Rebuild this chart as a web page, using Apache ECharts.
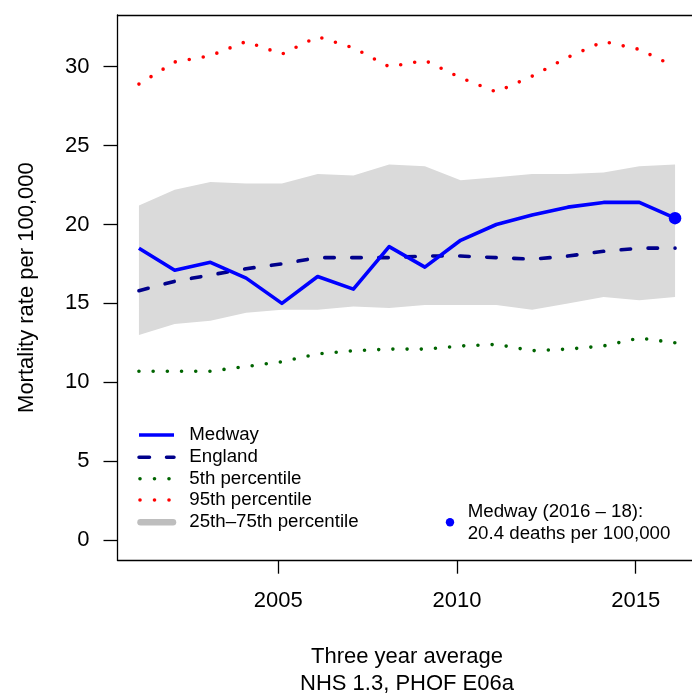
<!DOCTYPE html>
<html><head><meta charset="utf-8">
<script src="https://cdn.jsdelivr.net/npm/echarts@6/dist/echarts.min.js"></script>
<style>html,body{margin:0;padding:0;background:#fff}#c{width:692px;height:695px}</style>
</head><body><div id="c"></div>
<script>
// ---- data ----
const years   = [2001.1, 2002.1, 2003.1, 2004.1, 2005.1, 2006.1, 2007.1, 2008.1, 2009.1, 2010.1, 2011.1, 2012.1, 2013.1, 2014.1, 2015.1, 2016.1];
const medway  = [18.5, 17.1, 17.6, 16.6, 15.0, 16.7, 15.9, 18.6, 17.3, 19.0, 20.0, 20.6, 21.1, 21.4, 21.4, 20.4];
const england = [15.8, 16.4, 16.8, 17.2, 17.5, 17.9, 17.9, 17.9, 18.0, 18.0, 17.9, 17.8, 18.0, 18.3, 18.5, 18.5];
const p5      = [10.7, 10.7, 10.7, 11.0, 11.3, 11.8, 12.0, 12.1, 12.1, 12.3, 12.4, 12.0, 12.1, 12.3, 12.8, 12.5];
const p95     = [28.9, 30.3, 30.7, 31.6, 30.8, 31.9, 31.2, 30.0, 30.4, 29.3, 28.4, 29.4, 30.6, 31.6, 31.1, 30.0];
const p25     = [13.0, 13.7, 13.9, 14.4, 14.6, 14.6, 14.8, 14.7, 14.9, 14.9, 14.9, 14.6, 15.0, 15.4, 15.2, 15.4];
const p75     = [21.2, 22.2, 22.7, 22.6, 22.6, 23.2, 23.1, 23.8, 23.7, 22.8, 23.0, 23.2, 23.2, 23.3, 23.7, 23.8];
const xTicks  = [2005, 2010, 2015];
const yTicks  = [0, 5, 10, 15, 20, 25, 30];
const legendNames = ['Medway', 'England', '5th percentile', '95th percentile', '25th\u201375th percentile'];
const noteLine1 = 'Medway (2016 \u2013 18):';
const noteLine2 = medway[medway.length - 1].toFixed(1) + ' deaths per 100,000';

const FONT = "'Liberation Sans', Arial, Helvetica, sans-serif";
const pairs = arr => years.map((x, i) => [x, arr[i]]);

const chart = echarts.init(document.getElementById('c'), null, {renderer: 'canvas'});

// legend graphic
const LX0 = 139, LX1 = 174, TX = 189.3;
const rowsY = [435, 457.3, 478.7, 500, 522.3];
const g = [];
g.push({type: 'line', shape: {x1: LX0, y1: rowsY[0], x2: LX1, y2: rowsY[0]}, style: {stroke: '#0000FF', lineWidth: 3.4}});
g.push({type: 'line', shape: {x1: LX0, y1: rowsY[1], x2: LX1, y2: rowsY[1]}, style: {stroke: '#00008B', lineWidth: 3.5, lineDash: [10.5, 17], lineCap: 'round'}});
[140, 154.5, 169].forEach(x => {
  g.push({type: 'circle', shape: {cx: x, cy: rowsY[2], r: 1.8}, style: {fill: '#006400'}});
  g.push({type: 'circle', shape: {cx: x, cy: rowsY[3], r: 1.8}, style: {fill: '#FF0000'}});
});
g.push({type: 'line', shape: {x1: 140.5, y1: rowsY[4], x2: 173, y2: rowsY[4]}, style: {stroke: '#BEBEBE', lineWidth: 6.5, lineCap: 'round'}});
legendNames.forEach((n, i) => {
  g.push({type: 'text', x: TX, y: rowsY[i], style: {text: n, fontSize: 18.7, fontFamily: FONT, fill: '#000', verticalAlign: 'middle', align: 'left'}});
});
// annotation
g.push({type: 'circle', shape: {cx: 450, cy: 522.3, r: 4.2}, style: {fill: '#0000FF'}});
g.push({type: 'text', x: 467.7, y: 512.3, style: {text: noteLine1, fontSize: 18.7, fontFamily: FONT, fill: '#000', verticalAlign: 'middle'}});
g.push({type: 'text', x: 467.7, y: 534, style: {text: noteLine2, fontSize: 18.7, fontFamily: FONT, fill: '#000', verticalAlign: 'middle'}});

const AXC = {color: '#000', width: 1.3};
const option = {
  animation: false,
  backgroundColor: '#fff',
  textStyle: {fontFamily: FONT},
  grid: {left: 117.5, top: 15, width: 579, height: 545.2, show: false, containLabel: false, outerBoundsMode: 'none'},
  xAxis: [{
    type: 'value', min: 2000.5, max: 2016.7, position: 'bottom',
    axisLine: {show: true, onZero: false, lineStyle: AXC},
    splitLine: {show: false},
    axisTick: {show: true, customValues: xTicks, length: 13.5, lineStyle: AXC},
    axisLabel: {customValues: xTicks, fontSize: 22, color: '#000', margin: 30, fontFamily: FONT, formatter: v => String(v)},
    name: 'Three year average\nNHS 1.3, PHOF E06a', nameLocation: 'middle', nameGap: 84,
    nameTextStyle: {fontSize: 22, color: '#000', lineHeight: 26.4, fontFamily: FONT, verticalAlign: 'top'}
  }, {
    type: 'value', min: 2000.5, max: 2016.7, position: 'top',
    axisLine: {show: true, onZero: false, lineStyle: AXC},
    splitLine: {show: false}, axisTick: {show: false}, axisLabel: {show: false}
  }],
  yAxis: {
    type: 'value', min: -1.28, max: 33.28,
    axisLine: {show: true, onZero: false, lineStyle: AXC},
    splitLine: {show: false},
    axisTick: {show: true, customValues: yTicks, length: 14, lineStyle: AXC},
    axisLabel: {customValues: yTicks, fontSize: 22, color: '#000', margin: 28, fontFamily: FONT},
    name: 'Mortality rate per 100,000', nameLocation: 'middle', nameGap: 80,
    nameTextStyle: {fontSize: 22, color: '#000', fontFamily: FONT}
  },
  graphic: g,
  series: [
    {name: '25th\u201375th percentile', type: 'custom', silent: true, z: 1,
     data: years.map((x, i) => [x, p25[i], p75[i]]),
     encode: {x: 0, y: [1, 2]},
     renderItem: (params, api) => {
       if (params.dataIndex !== 0) return null;
       const pts = [];
       for (let i = 0; i < years.length; i++) pts.push(api.coord([years[i], p75[i]]));
       for (let i = years.length - 1; i >= 0; i--) pts.push(api.coord([years[i], p25[i]]));
       return {type: 'polygon', shape: {points: pts}, style: {fill: '#DADADA', stroke: null}};
     }},
    {name: '5th percentile', type: 'line', data: pairs(p5), symbol: 'none',
     lineStyle: {color: '#006400', width: 3.6, type: [0, 14.2], cap: 'round'}, z: 3},
    {name: '95th percentile', type: 'line', data: pairs(p95), symbol: 'none',
     lineStyle: {color: '#FF0000', width: 3.6, type: [0, 14.2], cap: 'round'}, z: 3},
    {name: 'England', type: 'line', data: pairs(england), symbol: 'none',
     lineStyle: {color: '#00008B', width: 3.6, type: [9.5, 17.5], cap: 'round', join: 'round'}, z: 4},
    {name: 'Medway', type: 'line', data: pairs(medway), symbol: 'none',
     lineStyle: {color: '#0000FF', width: 3.6, join: 'round'}, z: 5},
    {name: 'Medway latest', type: 'scatter', data: [[years[years.length - 1], medway[medway.length - 1]]],
     symbol: 'circle', symbolSize: 12.5, itemStyle: {color: '#0000FF', opacity: 1}, z: 6}
  ]
};
chart.setOption(option);
</script></body></html>
